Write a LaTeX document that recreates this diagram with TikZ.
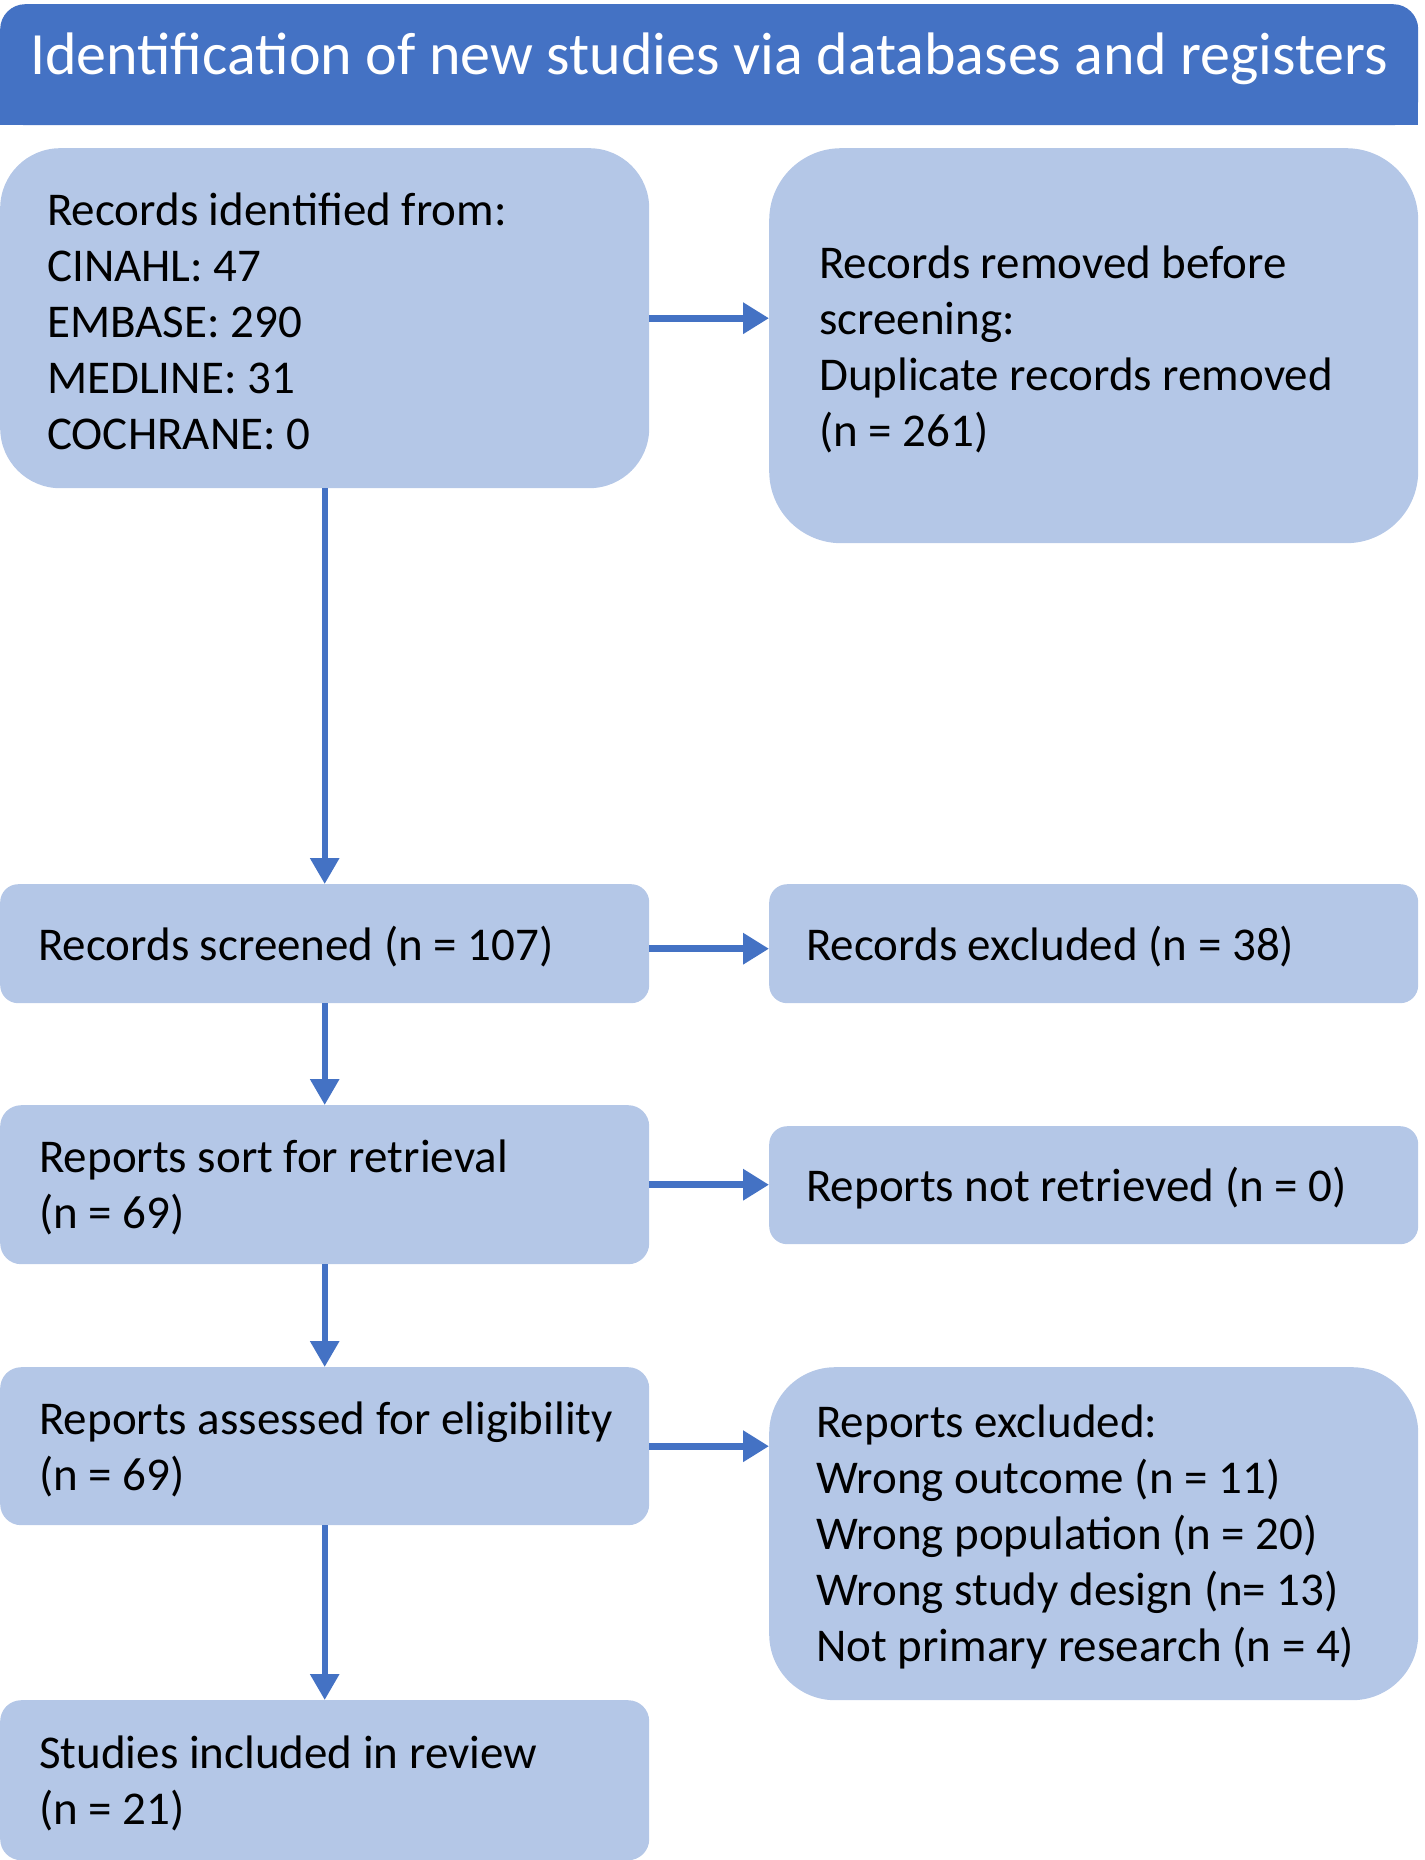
\documentclass[tikz,border=0pt]{standalone}
\usepackage{fontspec}
\setmainfont{Carlito}
\usetikzlibrary{arrows.meta}
\definecolor{hdr}{HTML}{4472C4}
\definecolor{boxc}{HTML}{B4C7E7}
\begin{document}
\begin{tikzpicture}[x=1pt,y=-1pt,
 box/.style={fill=boxc, draw=none, minimum width=649pt, inner sep=0pt, anchor=north west},
 txt/.style={anchor=west, align=left, inner sep=0pt, font=\fontsize{47}{56}\selectfont},
 harr/.style={draw=hdr, line width=7pt, -{Triangle[width=30pt,length=26pt]}},
 varr/.style={draw=hdr, line width=6pt, -{Triangle[width=28pt,length=26pt]}}]
\useasboundingbox (0,0) rectangle (1424,1860);

% header
\fill[hdr] (0,80) rectangle (1418,125);
\node[fill=hdr, rounded corners=25pt, minimum width=1418pt, minimum height=121pt, anchor=north west, inner sep=0pt] (hdrbox) at (0,4) {};
\node[text=white, inner sep=0pt, font=\fontsize{60}{70}\selectfont] (title) at (709,59) {Identification of new studies via databases and registers};

% boxes
\node[box, minimum height=340pt, rounded corners=60pt] (b1) at (0,148) {};
\node[box, minimum height=395pt, rounded corners=72pt] (b2) at (769,148) {};
\node[box, minimum height=119pt, rounded corners=18pt] (b3) at (0,884) {};
\node[box, minimum height=119pt, rounded corners=18pt] (b4) at (769,884) {};
\node[box, minimum height=159pt, rounded corners=21pt] (b5) at (0,1105) {};
\node[box, minimum height=118pt, rounded corners=18pt] (b6) at (769,1126) {};
\node[box, minimum height=158pt, rounded corners=21pt] (b7) at (0,1367) {};
\node[box, minimum height=333pt, rounded corners=66pt] (b8) at (769,1367) {};
\node[box, minimum height=160pt, rounded corners=21pt] (b9) at (0,1700) {};

% texts
\node[txt] (t1) at ([xshift=47pt,yshift=-3pt]b1.west) {Records identified from:\\CINAHL: 47\\EMBASE: 290\\MEDLINE: 31\\COCHRANE: 0};
\node[txt] (t2) at ([xshift=50pt,yshift=-4pt]b2.west) {Records removed before\\screening:\\Duplicate records removed\\(n = 261)};
\node[txt] (t3) at ([xshift=38pt,yshift=-3pt]b3.west) {Records screened (n = 107)};
\node[txt] (t4) at ([xshift=37pt,yshift=-3pt]b4.west) {Records excluded (n = 38)};
\node[txt] (t5) at ([xshift=39pt,yshift=-3pt]b5.west) {Reports sort for retrieval\\(n = 69)};
\node[txt] (t6) at ([xshift=37pt,yshift=-3pt]b6.west) {Reports not retrieved (n = 0)};
\node[txt] (t7) at ([xshift=39pt,yshift=-3pt]b7.west) {Reports assessed for eligibility\\(n = 69)};
\node[txt] (t8) at ([xshift=47pt,yshift=-3pt]b8.west) {Reports excluded:\\Wrong outcome (n = 11)\\Wrong population (n = 20)\\Wrong study design (n= 13)\\Not primary research (n = 4)};
\node[txt] (t9) at ([xshift=39pt,yshift=-3pt]b9.west) {Studies included in review\\(n = 21)};

% arrows
\draw[harr] (b1.east) -- (b1.east -| b2.west);
\draw[harr] ([yshift=-5pt]b3.east) -- ([yshift=-5pt]b3.east -| b4.west);
\draw[harr] (b5.east) -- (b5.east -| b6.west);
\draw[harr] (b7.east) -- (b7.east -| b8.west);
\draw[varr] (b1.south) -- (b3.north);
\draw[varr] (b3.south) -- (b5.north);
\draw[varr] (b5.south) -- (b7.north);
\draw[varr] (b7.south) -- (b9.north);
\end{tikzpicture}
\end{document}
